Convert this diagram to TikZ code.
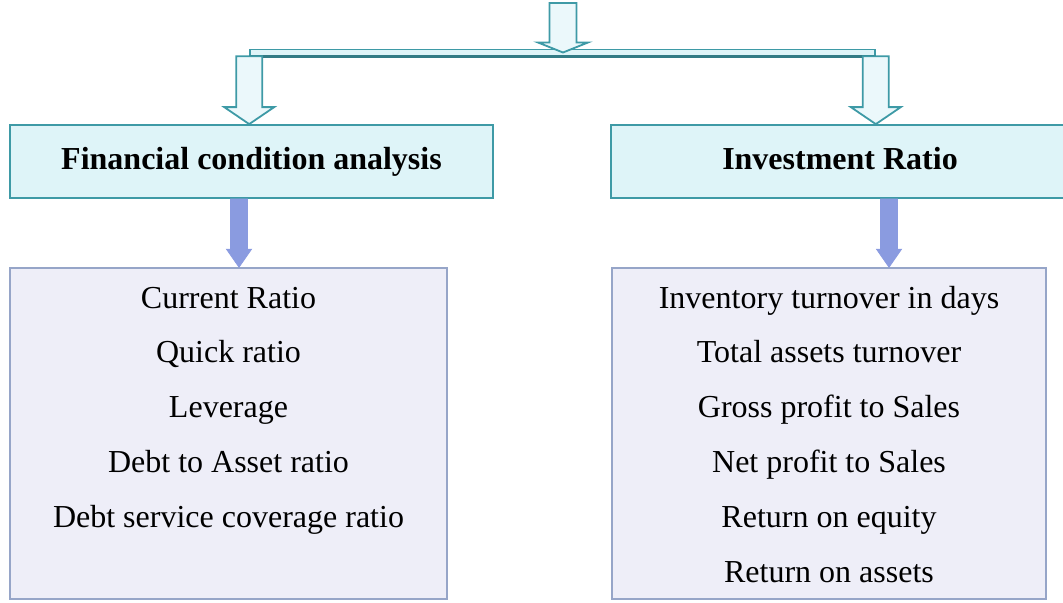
\documentclass[tikz,border=0pt]{standalone}
\usepackage{fontspec}
\setmainfont{Liberation Serif}
\usetikzlibrary{calc}
\definecolor{arrowteal}{RGB}{62,154,166}
\definecolor{headfill}{RGB}{222,244,248}
\definecolor{listfill}{RGB}{238,238,248}
\definecolor{listline}{RGB}{150,165,200}
\definecolor{ratioblue}{RGB}{138,155,224}

% block arrow pointing down: style, from, to, shaft half width, head half width, head length
\newcommand{\blockarrow}[6]{%
    \draw[#1] let \p1=(#2), \p2=(#3) in
        (\x1-#4,\y1) -- (\x1+#4,\y1) -- (\x1+#4,\y2+#6) -- (\x1+#5,\y2+#6)
        -- (\x1,\y2) -- (\x1-#5,\y2+#6) -- (\x1-#4,\y2+#6) -- cycle;
}

\begin{document}
\begin{tikzpicture}[x=0.5pt, y=-0.5pt,
    every node/.style={font=\fontsize{16}{19}\selectfont},
    head/.style={draw=arrowteal, fill=headfill, line width=0.9pt, inner sep=0pt,
        text height=11pt, text depth=3.5pt,
        minimum height=36.5pt, font=\fontsize{16}{19}\selectfont\bfseries},
    list/.style={draw=listline, fill=listfill, line width=0.8pt, minimum height=165.5pt},
    bar/.style={draw=arrowteal, fill=headfill, line width=0.8pt, inner sep=0pt, minimum height=3pt},
    hollow/.style={draw=arrowteal, fill=headfill!60!white, line width=0.9pt},
    fatblue/.style={fill=ratioblue, draw=ratioblue}]
    \useasboundingbox (0,0) rectangle (1063,602);

    % heading boxes
    \node[head, minimum width=241.5pt] (fin) at (251.5,161.5) {Financial condition analysis};
    \node[head, minimum width=229pt] (inv) at (840,161.5) {Investment Ratio};

    % list boxes
    \node[list, minimum width=218.5pt] (finlist) at (228.5,433.5) {};
    \node[list, minimum width=217pt] (invlist) at (829,433.5) {};
    \foreach \i/\txt in {1/Current Ratio, 2/Quick ratio, 3/Leverage,
        4/Debt to Asset ratio, 5/Debt service coverage ratio} {
        \node[anchor=base] (fin\i) at (228.5,{253.2+54.8*\i}) {\txt};
    }
    \foreach \i/\txt in {1/Inventory turnover in days, 2/Total assets turnover,
        3/Gross profit to Sales, 4/Net profit to Sales, 5/Return on equity, 6/Return on assets} {
        \node[anchor=base] (inv\i) at (829,{253.2+54.8*\i}) {\txt};
    }

    % splitting bar
    \node[bar, minimum width=312.5pt] (bar) at (562.5,52.5) {};
    \draw[arrowteal!80!black, line width=1.4pt] (bar.south west) -- (bar.south east);

    % hollow arrows
    \coordinate (src) at (563,3);
    \blockarrow{hollow}{src}{src |- bar.center}{6.75pt}{12.5pt}{5pt}
    \blockarrow{hollow}{bar.south west}{bar.south west |- fin.north}{6.5pt}{12.5pt}{8.5pt}
    \blockarrow{hollow}{bar.south east}{bar.south east |- inv.north}{6.5pt}{12.5pt}{8.5pt}

    % solid arrows
    \coordinate (d1) at ($(fin.south)+(-12.5,0)$);
    \coordinate (d2) at ($(inv.south)+(49,0)$);
    \blockarrow{fatblue}{d1}{d1 |- finlist.north}{4.25pt}{6.25pt}{9pt}
    \blockarrow{fatblue}{d2}{d2 |- invlist.north}{4.25pt}{6.25pt}{9pt}
\end{tikzpicture}
\end{document}
